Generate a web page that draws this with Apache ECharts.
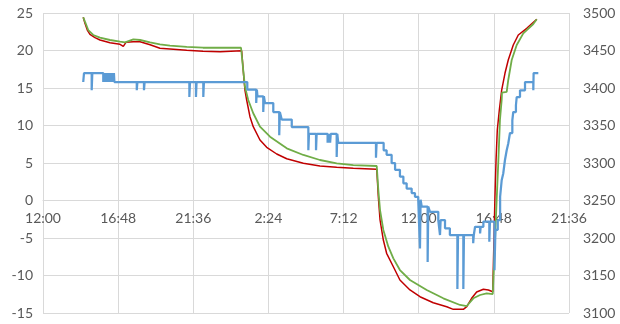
<!DOCTYPE html>
<html>
<head>
<meta charset="utf-8">
<script src="https://cdn.jsdelivr.net/npm/echarts@6/dist/echarts.min.js"></script>
<style>html,body{margin:0;padding:0;background:#fff}#c{width:620px;height:324px}</style>
</head>
<body>
<div id="c"></div>
<script>
// x values: hours elapsed since 12:00 on day 1
const xTicks = ['12:00','16:48','21:36','2:24','7:12','12:00','16:48','21:36'];

const redTime = [2.57,2.68,2.83,3.00,3.32,3.64,4.28,4.92,5.13,5.30,5.77,6.20,6.84,7.47,8.11,9.18,10.22,11.31,12.69,
  12.84,12.90,13.01,13.22,13.43,13.86,14.29,14.93,15.57,16.63,17.69,18.76,19.82,21.32,
  21.42,21.53,21.74,21.95,22.38,22.80,23.44,24.08,24.93,25.79,26.21,26.85,27.07,27.38,27.70,28.13,28.45,28.73,
  28.87,28.94,29.02,29.15,29.30,29.51,29.72,30.04,30.36,30.90,31.54];
const redVal = [24.43,23.63,22.73,22.16,21.71,21.40,21.04,20.83,20.56,21.09,21.17,21.17,20.77,20.29,20.20,20.03,19.89,19.84,19.97,
  16.07,14.73,13.40,11.17,9.84,8.07,7.09,6.20,5.57,4.96,4.60,4.43,4.29,4.16,
  0.51,-2.60,-5.27,-7.04,-8.83,-10.60,-11.93,-12.83,-13.63,-14.16,-14.51,-14.51,-14.16,-13.04,-12.20,-11.84,-11.93,-12.16,
  0.51,5.40,9.40,12.07,14.73,16.96,18.73,20.73,22.07,22.96,24.16];

const greenTime = [2.57,2.68,2.89,3.21,3.64,4.28,4.92,5.24,5.77,6.20,6.84,7.47,8.11,9.18,10.22,11.31,12.65,
  12.79,12.90,13.11,13.43,13.86,14.50,15.57,16.63,17.69,18.76,19.82,21.32,
  21.35,21.42,21.53,21.74,22.06,22.38,22.80,23.44,24.51,25.57,26.64,27.07,27.49,27.92,28.34,28.73,
  28.98,29.09,29.19,29.30,29.32,29.62,29.72,29.94,30.26,30.68,31.32,31.54];
const greenVal = [24.43,23.84,22.73,22.07,21.71,21.40,21.17,21.09,21.49,21.40,21.09,20.83,20.64,20.47,20.37,20.37,20.37,
  17.40,15.17,13.40,11.63,9.84,8.51,6.96,6.07,5.40,4.96,4.73,4.60,
  4.51,1.40,-1.27,-3.93,-6.16,-7.71,-9.27,-10.60,-11.93,-13.04,-13.93,-14.07,-13.04,-12.60,-12.37,-12.47,
  0.07,5.40,10.73,13.40,14.37,14.47,16.07,18.73,20.73,22.29,23.53,24.16];

const blueTime = [2.57,2.62,3.11,3.15,
  3.85,3.89,3.93,3.97,4.01,4.05,4.09,4.13,4.17,4.21,4.25,4.29,4.33,4.37,4.41,4.45,4.49,4.53,4.56,
  5.99,6.03,6.45,6.49,9.35,9.39,9.77,9.81,10.24,10.28,
  13.05,13.62,13.66,13.70,14.07,14.11,14.18,14.71,15.09,15.13,15.25,15.89,
  16.95,16.99,17.44,17.48,18.18,18.22,18.26,18.30,18.34,18.38,18.76,18.80,18.86,21.27,21.31,
  21.76,21.95,22.27,22.49,22.80,23.02,23.23,23.55,23.76,23.97,24.08,24.12,24.19,24.57,24.61,24.72,
  25.25,25.36,25.40,25.68,25.99,26.47,26.51,26.85,26.89,27.48,27.52,27.60,27.92,27.96,28.13,28.51,28.55,
  28.84,28.90,29.05,29.20,29.30,29.40,29.51,29.62,29.72,29.83,29.98,30.04,30.21,30.26,30.47,30.79,
  31.32,31.34,31.64];
const blueVal = [3408,3420,3397,3420,
  3408,3420,3408,3420,3408,3420,3408,3420,3408,3420,3408,3420,3408,3420,3408,3420,3408,3420,3408,
  3397,3408,3397,3408,3388,3408,3388,3408,3388,3408,
  3398,3380,3398,3389,3368,3389,3380,3368,3337,3368,3358,3348,
  3317,3339,3317,3339,3327,3339,3327,3339,3327,3339,3308,3339,3327,3307,3327,
  3317,3311,3300,3291,3282,3273,3266,3260,3255,3251,3186,3251,3242,3168,3242,3235,
  3224,3204,3224,3213,3204,3132,3204,3132,3204,3193,3204,3215,3206,3215,3222,3195,3222,
  3157,3211,3224,3255,3277,3286,3304,3317,3326,3340,3357,3368,3377,3388,3397,3408,
  3397,3420,3420];

const zip = (a, b) => a.map((x, i) => [x, b[i]]);

const font = 'Lato, "Open Sans", sans-serif';
const chart = echarts.init(document.getElementById('c'), null, {renderer: 'canvas'});
chart.setOption({
  animation: false,
  backgroundColor: '#ffffff',
  grid: {left: 43, right: 51, top: 13, bottom: 11, containLabel: false, outerBoundsMode: 'none'},
  xAxis: {
    type: 'value', min: 0, max: 33.6, interval: 4.8, position: 'bottom', offset: -113,
    axisLine: {show: true, onZero: false, lineStyle: {color: '#d9d9d9', width: 1}},
    axisTick: {show: false},
    axisLabel: {color: '#595959', fontSize: 14, fontFamily: font, margin: 11,
      formatter: v => xTicks[Math.round(v / 4.8)]},
    splitLine: {show: true, lineStyle: {color: '#d9d9d9', width: 1}}
  },
  yAxis: [
    {type: 'value', min: -15, max: 25, interval: 5, position: 'left',
     axisLine: {show: false}, axisTick: {show: false},
     axisLabel: {color: '#595959', fontSize: 14, fontFamily: font, margin: 10, formatter: v => String(v)},
     splitLine: {show: true, lineStyle: {color: '#d9d9d9', width: 1}}},
    {type: 'value', min: 3100, max: 3500, interval: 50, position: 'right',
     axisLine: {show: false}, axisTick: {show: false},
     axisLabel: {color: '#595959', fontSize: 14, fontFamily: font, margin: 14, formatter: v => String(v)},
     splitLine: {show: false}}
  ],
  series: [
    {name: 'red', type: 'line', yAxisIndex: 0, data: zip(redTime, redVal), showSymbol: false,
     lineStyle: {color: '#c00000', width: 1.5}, z: 2},
    {name: 'green', type: 'line', yAxisIndex: 0, data: zip(greenTime, greenVal), showSymbol: false,
     lineStyle: {color: '#70ad47', width: 1.8}, z: 3},
    {name: 'blue', type: 'line', yAxisIndex: 1, step: 'end', data: zip(blueTime, blueVal), showSymbol: false,
     lineStyle: {color: '#5b9bd5', width: 2.25}, z: 4}
  ]
});
</script>
</body>
</html>
